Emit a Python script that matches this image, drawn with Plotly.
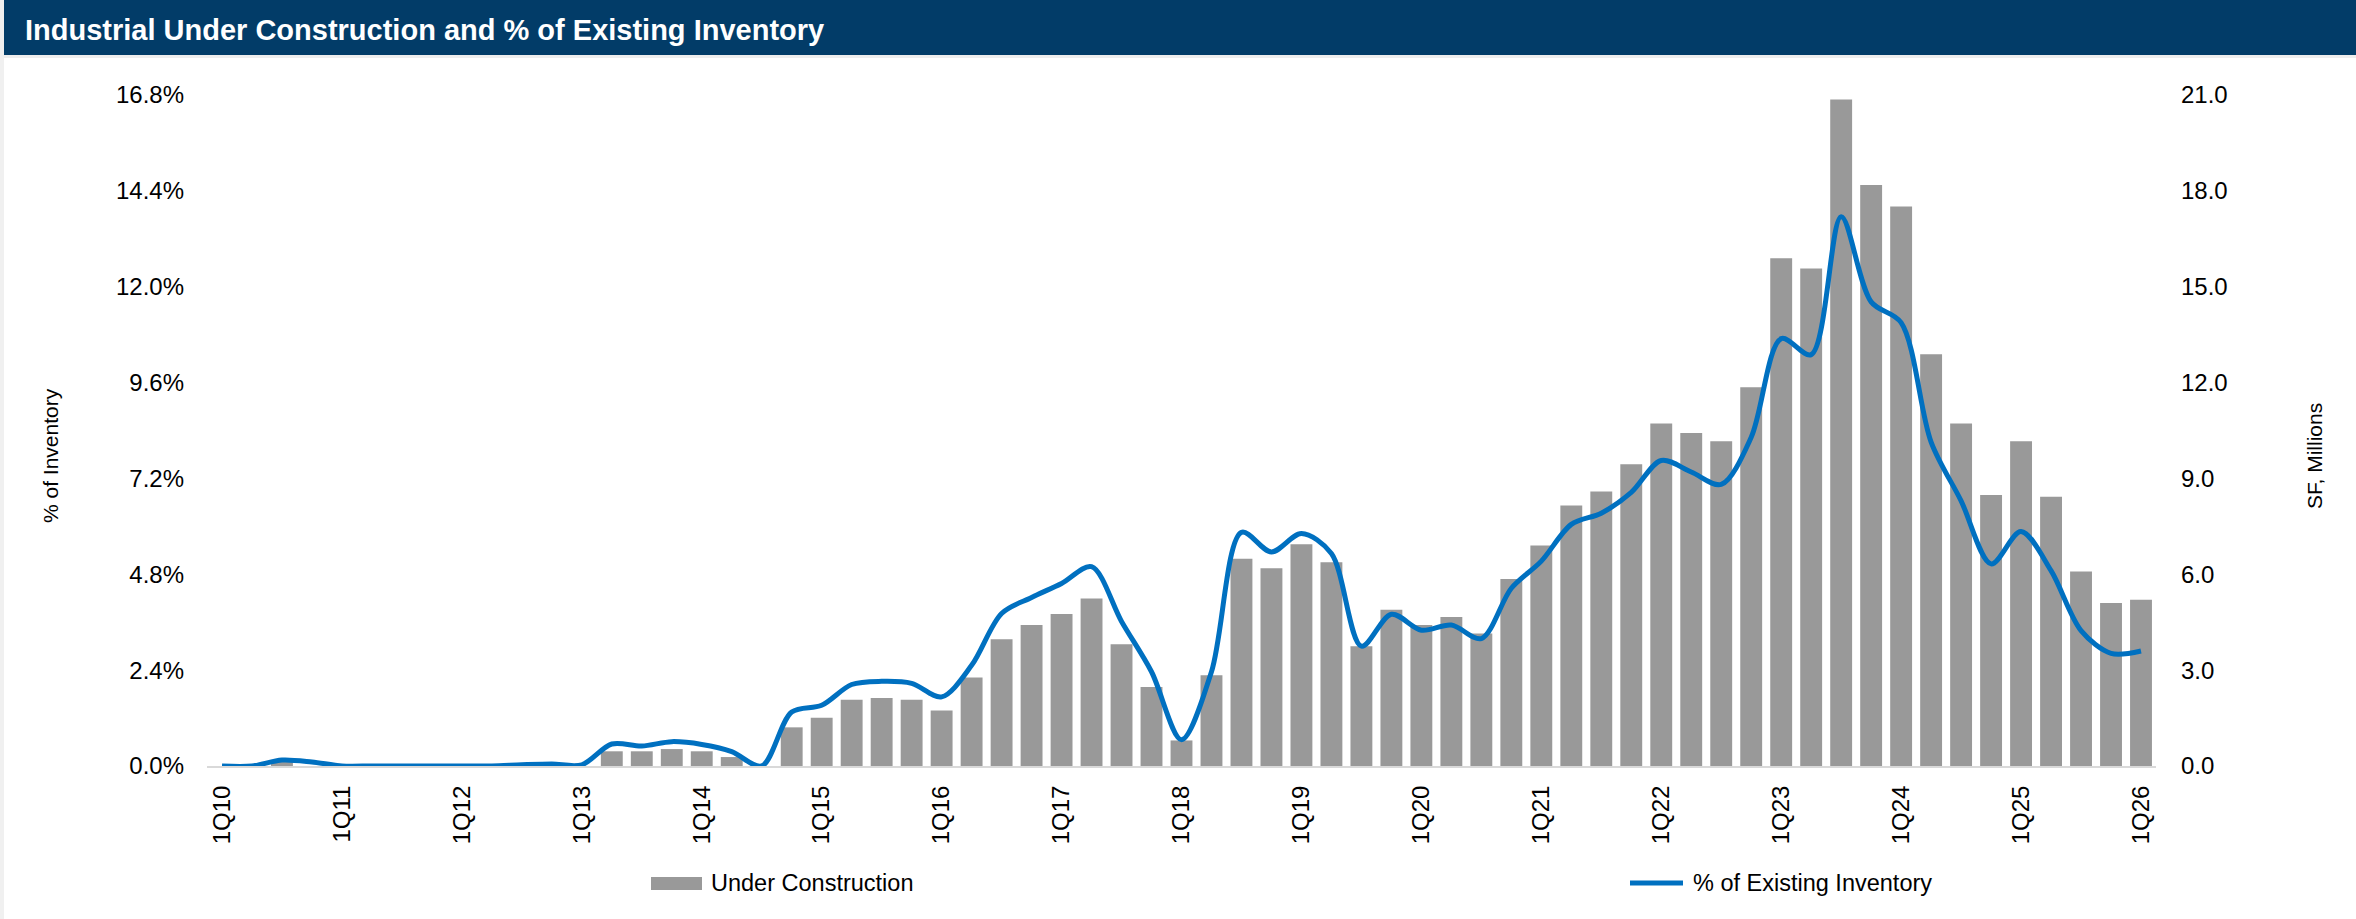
import plotly.graph_objects as go

# Quarterly series, 1Q10 through 1Q26
quarters = [f"{q}Q{yy:02d}" for yy in range(10, 26) for q in range(1, 5)] + ["1Q26"]

# Under construction, million SF (right axis)
under_construction = [
    0.0, 0.0, 0.15, 0.0,      # 2010
    0.0, 0.0, 0.0, 0.0,       # 2011
    0.0, 0.0, 0.0, 0.0,       # 2012
    0.0, 0.46, 0.46, 0.53,    # 2013
    0.46, 0.28, 0.0, 1.21,    # 2014
    1.51, 2.07, 2.13, 2.07,   # 2015
    1.74, 2.77, 3.97, 4.41,   # 2016
    4.76, 5.24, 3.81, 2.47,   # 2017
    0.80, 2.84, 6.49, 6.19,   # 2018
    6.94, 6.38, 3.75, 4.89,   # 2019
    4.41, 4.66, 4.15, 5.85,   # 2020
    6.90, 8.15, 8.59, 9.44,   # 2021
    10.72, 10.42, 10.16, 11.85,  # 2022
    15.89, 15.57, 20.86, 18.18,  # 2023
    17.51, 12.89, 10.72, 8.48,   # 2024
    10.16, 8.43, 6.09, 5.10,     # 2025
    5.20,                        # 1Q26
]

# Under construction as % of existing inventory (left axis)
pct_inventory = [
    0.0, 0.0, 0.15, 0.10,
    0.0, 0.0, 0.0, 0.0,
    0.0, 0.0, 0.03, 0.05,
    0.03, 0.55, 0.50, 0.61,
    0.54, 0.36, 0.0, 1.35,
    1.52, 2.04, 2.12, 2.07,
    1.73, 2.52, 3.82, 4.22,
    4.57, 4.99, 3.62, 2.36,
    0.66, 2.36, 5.85, 5.36,
    5.82, 5.32, 3.00, 3.80,
    3.40, 3.53, 3.19, 4.45,
    5.13, 6.05, 6.33, 6.85,
    7.65, 7.36, 7.05, 8.23,
    10.70, 10.30, 13.75, 11.62,
    11.10, 8.11, 6.64, 5.06,
    5.87, 4.89, 3.39, 2.82,
    2.88,
]

pct_ticks = [0, 2.4, 4.8, 7.2, 9.6, 12.0, 14.4, 16.8]
pct_labels = [f"{v:.1f}%" for v in pct_ticks]
sf_ticks = [0, 3, 6, 9, 12, 15, 18, 21]
sf_labels = [f"{v:.1f}" for v in sf_ticks]
year_ticks = [q for q in quarters if q.startswith("1Q")]

W, H = 2356, 919
L, R, T, B = 207, 200, 95, 153
PW, PH = W - L - R, H - T - B

FONT = "Liberation Sans, Arial, sans-serif"
BAR_GRAY = "#999999"
LINE_BLUE = "#0070C0"
NAVY = "#023C68"


def px_x(px):
    return (px - L) / PW


def px_y(py):
    return (H - B - py) / PH


fig = go.Figure()
fig.add_bar(
    x=quarters, y=under_construction, yaxis="y",
    marker=dict(color=BAR_GRAY, line=dict(width=0)),
    name="Under Construction", showlegend=False,
)
fig.add_scatter(
    x=quarters, y=pct_inventory, yaxis="y2", mode="lines",
    line=dict(color=LINE_BLUE, width=5, shape="spline", smoothing=0.9),
    name="% of Existing Inventory", showlegend=False,
)

shapes = [
    # header band
    dict(type="rect", xref="paper", yref="paper", x0=px_x(4), x1=px_x(W), y0=px_y(55), y1=px_y(0),
         fillcolor=NAVY, line=dict(width=0), layer="below"),
    # thin rule under the header
    dict(type="rect", xref="paper", yref="paper", x0=px_x(4), x1=px_x(W), y0=px_y(58), y1=px_y(55),
         fillcolor="#EEEEEE", line=dict(width=0), layer="below"),
    # left border strip
    dict(type="rect", xref="paper", yref="paper", x0=px_x(0), x1=px_x(4), y0=px_y(H), y1=px_y(0),
         fillcolor="#F0F0F0", line=dict(width=0), layer="below"),
    # legend keys
    dict(type="rect", xref="paper", yref="paper", x0=px_x(651), x1=px_x(702), y0=px_y(890), y1=px_y(877),
         fillcolor=BAR_GRAY, line=dict(width=0)),
    dict(type="line", xref="paper", yref="paper", x0=px_x(1630), x1=px_x(1683), y0=px_y(883), y1=px_y(883),
         line=dict(color=LINE_BLUE, width=5)),
]

annotations = [
    dict(text="% of Inventory", xref="paper", yref="paper", x=px_x(50), y=px_y(456),
         textangle=-90, showarrow=False, xanchor="center", yanchor="middle",
         font=dict(family=FONT, size=21, color="#000000")),
    dict(text="SF, Millions", xref="paper", yref="paper", x=px_x(2314), y=px_y(456),
         textangle=-90, showarrow=False, xanchor="center", yanchor="middle",
         font=dict(family=FONT, size=21, color="#000000")),
    dict(text="Under Construction", xref="paper", yref="paper", x=px_x(709), y=px_y(883),
         showarrow=False, xanchor="left", yanchor="middle",
         font=dict(family=FONT, size=23.5, color="#000000")),
    dict(text="% of Existing Inventory", xref="paper", yref="paper", x=px_x(1691), y=px_y(883),
         showarrow=False, xanchor="left", yanchor="middle",
         font=dict(family=FONT, size=23.5, color="#000000")),
]

fig.update_layout(
    width=W, height=H,
    margin=dict(l=L, r=R, t=T, b=B, pad=0),
    paper_bgcolor="white", plot_bgcolor="white",
    font=dict(family=FONT, color="#000000"),
    title=dict(
        text="Industrial Under Construction and % of Existing Inventory",
        xref="container", yref="container", x=25 / W, y=1 - 30 / H,
        xanchor="left", yanchor="middle",
        font=dict(family=FONT, size=29, color="white", weight="bold"),
    ),
    bargap=0.27,
    showlegend=False,
    xaxis=dict(
        type="category", range=[-0.5, len(quarters) - 0.5],
        tickmode="array", tickvals=year_ticks, ticktext=year_ticks,
        tickangle=-90, tickfont=dict(size=24), ticks="", ticklabelstandoff=8,
        showline=True, linecolor="#D9D9D9", linewidth=2, showgrid=False, zeroline=False,
    ),
    yaxis=dict(
        side="right", range=[0, 21], tickmode="array", tickvals=sf_ticks, ticktext=sf_labels,
        tickfont=dict(size=24), ticks="", ticklabelstandoff=24,
        showgrid=False, zeroline=False, showline=False,
    ),
    yaxis2=dict(
        overlaying="y", side="left", range=[0, 16.8], tickmode="array", tickvals=pct_ticks,
        ticktext=pct_labels, tickfont=dict(size=24), ticks="", ticklabelstandoff=22,
        showgrid=False, zeroline=False, showline=False,
    ),
    shapes=shapes,
    annotations=annotations,
)

fig.write_html("out.html")
